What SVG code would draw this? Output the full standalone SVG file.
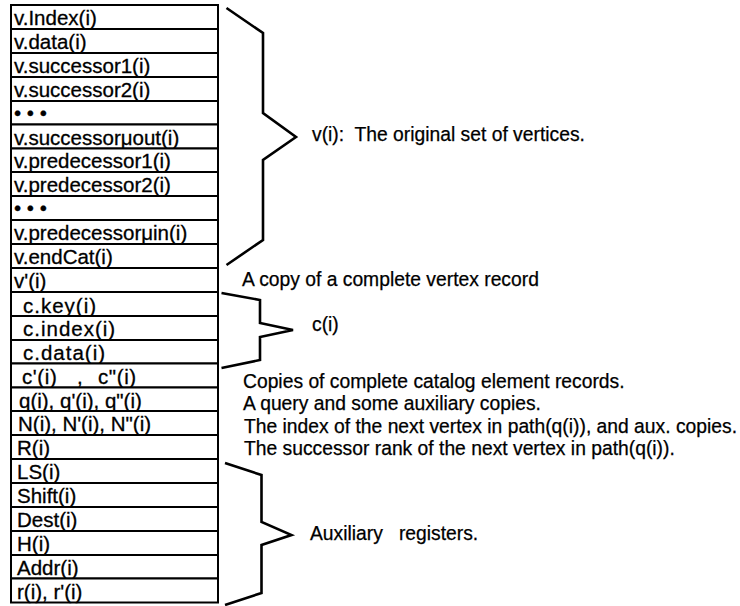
<svg xmlns="http://www.w3.org/2000/svg" width="740" height="606" viewBox="0 0 740 606">
<style>
  .cell { fill: #fff; stroke: #000; stroke-width: 2; }
  .t { font-family: "Liberation Sans", Arial, sans-serif; font-size: 19.3px; fill: #000; white-space: pre; stroke: #000; stroke-width: 0.25; }
  .tt { font-family: "Liberation Sans", Arial, sans-serif; font-size: 20.5px; fill: #000; white-space: pre; stroke: #000; stroke-width: 0.3; }
  .sp { letter-spacing: 1px; }
  .brace { fill: none; stroke: #000; stroke-width: 2.6; stroke-linejoin: miter; }
</style>
<rect width="740" height="606" fill="#fff"/>
<g id="table">
  <g id="row-v-index"><rect class="cell" x="11" y="5" width="207" height="24"/><text class="tt" x="14" y="25">v.Index(i)</text></g>
  <g id="row-v-data"><rect class="cell" x="11" y="29" width="207" height="24"/><text class="tt" x="14" y="49">v.data(i)</text></g>
  <g id="row-v-successor1"><rect class="cell" x="11" y="53" width="207" height="24"/><text class="tt" x="14" y="73">v.successor1(i)</text></g>
  <g id="row-v-successor2"><rect class="cell" x="11" y="77" width="207" height="24"/><text class="tt" x="14" y="97">v.successor2(i)</text></g>
  <g id="row-dots1"><rect class="cell" x="11" y="101" width="207" height="23.5"/><text class="tt" x="14" y="120">• • •</text></g>
  <g id="row-v-successor-out"><rect class="cell" x="11" y="124.5" width="207" height="24"/><text class="tt" x="14" y="144.5">v.successorμout(i)</text></g>
  <g id="row-v-predecessor1"><rect class="cell" x="11" y="148.5" width="207" height="23.5"/><text class="tt" x="14" y="168">v.predecessor1(i)</text></g>
  <g id="row-v-predecessor2"><rect class="cell" x="11" y="172" width="207" height="24"/><text class="tt" x="14" y="192">v.predecessor2(i)</text></g>
  <g id="row-dots2"><rect class="cell" x="11" y="196" width="207" height="24"/><text class="tt" x="14" y="215">• • •</text></g>
  <g id="row-v-predecessor-in"><rect class="cell" x="11" y="220" width="207" height="24"/><text class="tt" x="14" y="240">v.predecessorμin(i)</text></g>
  <g id="row-v-endcat"><rect class="cell" x="11" y="244" width="207" height="24"/><text class="tt" x="14" y="264">v.endCat(i)</text></g>
  <g id="row-v-prime"><rect class="cell" x="11" y="268" width="207" height="24"/><text class="tt" x="14" y="288">v'(i)</text></g>
  <g id="row-c-key"><rect class="cell" x="11" y="292" width="207" height="24"/><text class="tt sp" x="23" y="313">c.key(i)</text></g>
  <g id="row-c-index"><rect class="cell" x="11" y="316" width="207" height="24"/><text class="tt sp" x="23" y="336">c.index(i)</text></g>
  <g id="row-c-data"><rect class="cell" x="11" y="340" width="207" height="23.5"/><text class="tt sp" x="23" y="359.5">c.data(i)</text></g>
  <g id="row-c-copies"><rect class="cell" x="11" y="363.5" width="207" height="24"/><text class="tt" x="22" y="384" letter-spacing="0.6">c'(i)<tspan x="77">,</tspan><tspan x="98">c"(i)</tspan></text></g>
  <g id="row-q"><rect class="cell" x="11" y="387.5" width="207" height="23.5"/><text class="tt" x="19" y="407.5">q(i), q'(i), q"(i)</text></g>
  <g id="row-n"><rect class="cell" x="11" y="411" width="207" height="24"/><text class="tt" x="18" y="431">N(i), N'(i), N"(i)</text></g>
  <g id="row-r"><rect class="cell" x="11" y="435" width="207" height="24"/><text class="tt" x="17" y="455">R(i)</text></g>
  <g id="row-ls"><rect class="cell" x="11" y="459" width="207" height="24"/><text class="tt" x="17" y="479">LS(i)</text></g>
  <g id="row-shift"><rect class="cell" x="11" y="483" width="207" height="24"/><text class="tt" x="17" y="503">Shift(i)</text></g>
  <g id="row-dest"><rect class="cell" x="11" y="507" width="207" height="24"/><text class="tt" x="17" y="527">Dest(i)</text></g>
  <g id="row-h"><rect class="cell" x="11" y="531" width="207" height="24"/><text class="tt" x="17" y="551">H(i)</text></g>
  <g id="row-addr"><rect class="cell" x="11" y="555" width="207" height="23.5"/><text class="tt" x="17" y="574.5">Addr(i)</text></g>
  <g id="row-r-copies"><rect class="cell" x="11" y="578.5" width="207" height="24"/><text class="tt" x="17" y="598.5">r(i), r'(i)</text></g>
</g>
<g id="connectors">
  <path id="brace-v" class="brace" d="M226.5,8 L263,33 L263,113 L296,137 L263,160 L263,240 L226.5,265"/>
  <path id="brace-c" class="brace" d="M221.5,293 L260,300 L260,323 L293,330 L260,337 L260,360 L221.5,368"/>
  <path id="brace-aux" class="brace" d="M225,463 L261.5,475 L261.5,522 L291.5,535 L261.5,545 L261.5,593 L225,605"/>
</g>
<g id="labels">
  <g id="label-v"><text class="t" x="312" y="141">v(i):  The original set of vertices.</text></g>
  <g id="label-vcopy"><text class="t" x="242" y="286">A copy of a complete vertex record</text></g>
  <g id="label-c"><text class="t" x="312" y="331">c(i)</text></g>
  <g id="label-ccopies"><text class="t" x="243" y="388">Copies of complete catalog element records.</text></g>
  <g id="label-q"><text class="t" x="243" y="410">A query and some auxiliary copies.</text></g>
  <g id="label-n"><text class="t" x="244" y="433">The index of the next vertex in path(q(i)), and aux. copies.</text></g>
  <g id="label-r"><text class="t" x="244" y="455">The successor rank of the next vertex in path(q(i)).</text></g>
  <g id="label-aux"><text class="t" x="310" y="540">Auxiliary   registers.</text></g>
</g>
</svg>
